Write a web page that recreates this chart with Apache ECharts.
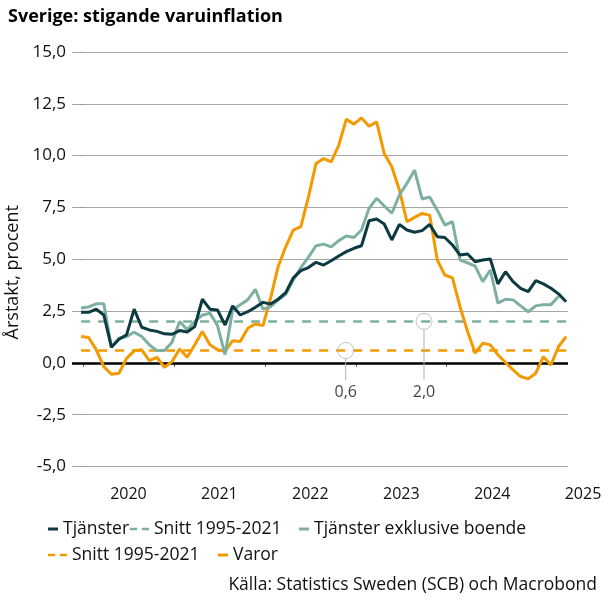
<!DOCTYPE html>
<html><head><meta charset="utf-8">
<script src="https://cdn.jsdelivr.net/npm/echarts@6/dist/echarts.min.js"></script>
<style>html,body{margin:0;padding:0;background:#fff}#c{width:606px;height:606px}</style>
</head><body><div id="c"></div>
<script>
// Monthly data, first observation December 2019
const firstMonth = '2019-12';
const yearLabels = ['2020', '2021', '2022', '2023', '2024', '2025'];
const tjanster = [2.44,2.44,2.59,2.31,0.76,1.14,1.35,2.59,1.72,1.59,1.52,1.40,1.38,1.56,1.49,1.75,
  3.07,2.59,2.55,1.83,2.75,2.31,2.47,2.68,2.92,2.84,3.07,3.39,4.10,4.45,4.60,4.85,
  4.72,4.93,5.16,5.37,5.53,5.65,6.86,6.94,6.70,5.93,6.68,6.41,6.30,6.38,6.68,6.09,
  6.05,5.69,5.20,5.25,4.88,4.96,5.01,3.81,4.40,3.92,3.60,3.44,3.97,3.81,3.60,3.33,2.95];
const tjansterExBoende = [2.65,2.70,2.85,2.85,0.75,1.19,1.27,1.48,1.27,0.87,0.60,0.60,1.00,2.00,1.60,2.00,
  2.30,2.40,1.80,0.40,2.55,2.80,3.05,3.55,2.59,2.71,3.04,3.30,4.00,4.60,5.10,5.65,
  5.73,5.60,5.90,6.12,6.05,6.41,7.46,7.94,7.57,7.22,8.10,8.67,9.30,7.91,8.00,7.37,
  6.65,6.81,4.96,4.83,4.67,3.92,4.48,2.88,3.07,3.04,2.75,2.47,2.75,2.81,2.81,3.20];
const varor = [1.27,1.22,0.63,-0.18,-0.55,-0.50,0.22,0.58,0.63,0.11,0.27,-0.21,0.06,0.67,0.27,0.87,
  1.51,0.87,0.63,0.55,1.07,1.03,1.67,1.88,1.80,3.12,4.64,5.60,6.41,6.57,8.01,9.62,
  9.86,9.70,10.50,11.76,11.52,11.82,11.42,11.63,10.10,9.46,8.34,6.81,7.02,7.21,7.13,4.96,
  4.24,4.10,2.71,1.51,0.47,0.95,0.87,0.39,0.02,-0.34,-0.66,-0.77,-0.50,0.30,-0.10,0.79,1.27];
const snittTjanster = 2.0;   // Snitt 1995-2021, tjänster
const snittVaror = 0.6;      // Snitt 1995-2021, varor
const annotations = [
  { date: '2022-11-21', value: snittVaror, label: '0,6' },
  { date: '2023-10-01', value: snittTjanster, label: '2,0' }
];

const C_DARK = '#0b3b40', C_LIGHT = '#7eb0a2', C_ORANGE = '#f39a00';
const FONT = 'Open Sans';
const fmt = v => v.toFixed(1).replace('.', ',');

const [fy, fm] = firstMonth.split('-').map(Number);
const baseIdx = (fy - 2020) * 12 + (fm - 1);
const pos = i => baseIdx + i + 0.75;   // observation placed late in its month
const toPairs = arr => arr.map((v, i) => [pos(i), v]);
const datePos = s => { const [y, m, d] = s.split('-').map(Number); return (y - 2020) * 12 + (m - 1) + (d - 1) / 30; };

const xMax = datePos('2025-05-01');
const avgLine = v => tjanster.map((_, i) => [pos(i), v]);
const yearTicks = yearLabels.map(y => (Number(y) - 2020) * 12);
const yearMids = yearTicks.map(t => Math.min(t + 6, xMax));

const annotSeries = [];
annotations.forEach(a => {
  const x = datePos(a.date);
  annotSeries.push({
    type: 'line', silent: true, symbol: 'none', z: 4,
    data: [[x, a.value - 0.39], [x, -0.82]],
    lineStyle: { color: '#b3b3b3', width: 1 }
  });
  annotSeries.push({
    type: 'scatter', silent: true, z: 6,
    data: [[x, a.value]], symbol: 'circle', symbolSize: 16,
    itemStyle: { color: 'rgba(0,0,0,0)', borderColor: '#b3b3b3', borderWidth: 1 }
  });
  annotSeries.push({
    type: 'scatter', silent: true, z: 6,
    data: [[x, -0.82]], symbolSize: 1,
    itemStyle: { color: 'rgba(0,0,0,0)' },
    label: { show: true, position: 'bottom', distance: 4, formatter: a.label,
      fontFamily: FONT, fontSize: 16, color: '#111' }
  });
});

const SOLID_ICON = 'rect';
const DASH_ICON = 'path://M0,0H8V3H0Z M13,0H21V3H13Z';
const legendBase = (left, top, name, icon, w) => ({
  left, top, data: [{ name, icon }], itemWidth: w, itemHeight: 3, padding: 0,
  selectedMode: false,
  textStyle: { fontFamily: FONT, fontSize: 17.5, color: '#111' }
});

const chart = echarts.init(document.getElementById('c'), null, { renderer: 'canvas' });
chart.setOption({
  animation: false,
  backgroundColor: '#fff',
  title: {
    text: 'Sverige: stigande varuinflation', left: 3, top: 3,
    textStyle: { fontFamily: FONT, fontWeight: 'bold', fontSize: 18, color: '#000' }
  },
  grid: { left: 72, right: 38, top: 52, bottom: 139.5, outerBoundsMode: 'none', containLabel: false },
  xAxis: {
    type: 'value', min: -1.45, max: xMax,
    offset: 13,
    axisLine: { show: false },
    splitLine: { show: false },
    axisTick: { show: true, customValues: yearTicks, length: 4, lineStyle: { color: '#555', width: 1 } },
    axisLabel: {
      customValues: yearMids, margin: 7, showMaxLabel: true, showMinLabel: true, hideOverlap: false,
      formatter: v => v >= xMax - 0.01 ? '{e|2025}' : String(2020 + Math.floor(v / 12)),
      rich: { e: { fontFamily: FONT, fontSize: 16, color: '#111', padding: [0, 0, 0, 30] } },
      fontFamily: FONT, fontSize: 16, color: '#111'
    }
  },
  yAxis: {
    type: 'value', min: -5, max: 15, interval: 2.5,
    name: 'Årstakt, procent', nameLocation: 'middle', nameGap: 43, nameRotate: 90,
    nameTextStyle: { fontFamily: FONT, fontSize: 18, color: '#111', padding: [0, 26, 0, 0] },
    axisLine: { show: false },
    axisTick: { show: true, length: 4, lineStyle: { color: '#999' } },
    axisLabel: { formatter: fmt, margin: 6, fontFamily: FONT, fontSize: 17, color: '#111' },
    splitLine: { lineStyle: { color: '#a6a6a6', width: 1 } }
  },
  legend: [
    legendBase(48, 520, 'Tjänster', SOLID_ICON, 10),
    legendBase(130, 520, 'Snitt 1995-2021', DASH_ICON, 19),
    legendBase(299, 520, 'Tjänster exklusive boende', SOLID_ICON, 10),
    legendBase(48, 546, 'Snitt 1995-2021 ', DASH_ICON, 19),
    legendBase(218, 546, 'Varor', SOLID_ICON, 10)
  ],
  graphic: [{
    type: 'text', right: 9, top: 576,
    style: { text: 'Källa: Statistics Sweden (SCB) och Macrobond', fontFamily: FONT, fontSize: 17.5, fill: '#111' }
  }],
  series: [
    {
      name: 'Snitt 1995-2021', type: 'line', symbol: 'none', z: 2, silent: true,
      data: avgLine(snittTjanster), itemStyle: { color: C_LIGHT },
      lineStyle: { color: C_LIGHT, width: 2.5, type: [9, 8] }
    },
    {
      name: 'Snitt 1995-2021 ', type: 'line', symbol: 'none', z: 2, silent: true,
      data: avgLine(snittVaror), itemStyle: { color: C_ORANGE },
      lineStyle: { color: C_ORANGE, width: 2.5, type: [9, 8] },
      markLine: {
        silent: true, symbol: 'none', label: { show: false }, z: 3,
        lineStyle: { color: '#000', width: 2.5, type: 'solid' },
        data: [{ yAxis: 0 }]
      }
    },
    {
      name: 'Varor', type: 'line', symbol: 'none', z: 5,
      data: toPairs(varor), lineStyle: { color: C_ORANGE, width: 3 }, itemStyle: { color: C_ORANGE }
    },
    {
      name: 'Tjänster exklusive boende', type: 'line', symbol: 'none', z: 5,
      data: toPairs(tjansterExBoende), lineStyle: { color: C_LIGHT, width: 3 }, itemStyle: { color: C_LIGHT }
    },
    {
      name: 'Tjänster', type: 'line', symbol: 'none', z: 5,
      data: toPairs(tjanster), lineStyle: { color: C_DARK, width: 3 }, itemStyle: { color: C_DARK }
    }
  ].concat(annotSeries)
});
</script></body></html>
